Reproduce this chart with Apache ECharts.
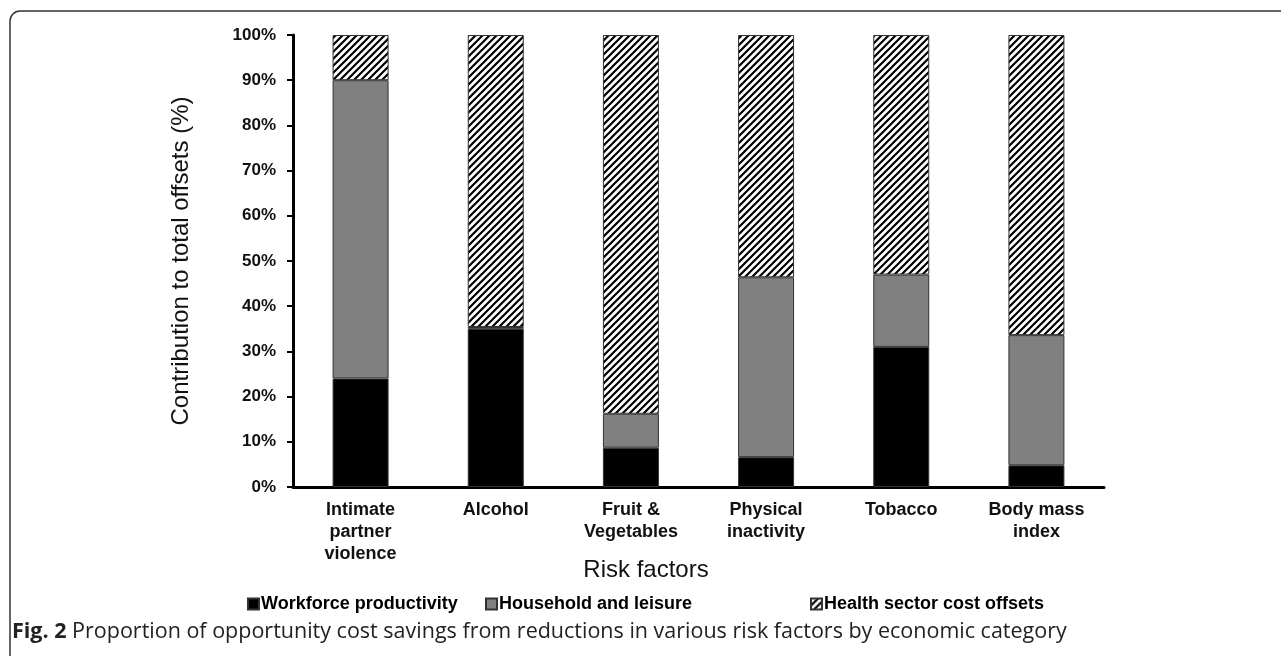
<!DOCTYPE html>
<html>
<head>
<meta charset="utf-8">
<script src="https://cdn.jsdelivr.net/npm/echarts@6/dist/echarts.min.js"></script>
<style>
  html, body { margin: 0; padding: 0; background: #fff; }
  #chart { width: 1281px; height: 656px; }
</style>
</head>
<body>
<div id="chart"></div>
<script>
// categories and shares (%)
const categories = ['Intimate\npartner\nviolence', 'Alcohol', 'Fruit &\nVegetables', 'Physical\ninactivity', 'Tobacco', 'Body mass\nindex']
const workforce = [24, 35, 8.7, 6.6, 31, 4.8]
const household = [66, 0.4, 7.5, 39.8, 16, 28.8]
const health = [10, 64.6, 83.8, 53.6, 53, 66.4]
const seriesNames = ['Workforce productivity', 'Household and leisure', 'Health sector cost offsets']

const FONT = '"Liberation Sans", Arial, sans-serif'

// diagonal hatch used for the health sector bars
function hatch() {
    const c = document.createElement('canvas')
    c.width = 7; c.height = 7
    const g = c.getContext('2d')
    g.fillStyle = '#fff'
    g.fillRect(0, 0, 7, 7)
    g.strokeStyle = '#000'
    g.lineWidth = 2.2
    g.beginPath()
    g.moveTo(-1, 8); g.lineTo(8, -1)
    g.moveTo(-1, 1); g.lineTo(1, -1)
    g.moveTo(6, 8); g.lineTo(8, 6)
    g.stroke()
    return c
}

const chart = echarts.init(document.getElementById('chart'))

const barBase = {
    type: 'bar',
    stack: 'total',
    barWidth: 56,
    emphasis: { disabled: true }
}

let legendItem = (left, name) => ({
    top: 590,
    left,
    data: [name],
    itemWidth: 11,
    itemHeight: 11,
    icon: 'rect',
    textStyle: { fontFamily: FONT, fontWeight: 'bold', fontSize: 18, color: '#000', padding: [0, 0, 0, -3] }
})

chart.setOption({
    animation: false,
    grid: { left: 293, right: 177, top: 35, bottom: 169 },
    legend: [
        legendItem(242, seriesNames[0]),
        legendItem(480, seriesNames[1]),
        legendItem(805, seriesNames[2])
    ],
    xAxis: {
        type: 'category',
        data: categories,
        axisLine: { lineStyle: { color: '#000', width: 3 } },
        axisTick: { length: 6, lineStyle: { color: '#000', width: 2 } },
        axisLabel: {
            margin: 12, color: '#111', fontFamily: FONT, fontWeight: 'bold',
            fontSize: 18, lineHeight: 22, interval: 0
        }
    },
    yAxis: {
        type: 'value',
        min: 0, max: 100, interval: 10,
        name: 'Contribution to total offsets (%)',
        nameLocation: 'middle',
        nameGap: 100,
        nameTextStyle: { fontFamily: FONT, fontSize: 24, color: '#111' },
        splitLine: { show: false },
        axisLine: { show: true, lineStyle: { color: '#000', width: 3 } },
        axisTick: { show: true, length: 6, lineStyle: { color: '#000', width: 2 } },
        axisLabel: {
            margin: 17, color: '#111', fontFamily: FONT, fontWeight: 'bold', fontSize: 17,
            formatter: '{value}%'
        }
    },
    series: [
        Object.assign({ name: seriesNames[0], data: workforce,
            itemStyle: { color: '#000', borderColor: '#333', borderWidth: 1 } }, barBase),
        Object.assign({ name: seriesNames[1], data: household,
            itemStyle: { color: '#808080', borderColor: '#333', borderWidth: 1 } }, barBase),
        Object.assign({ name: seriesNames[2], data: health,
            itemStyle: { color: { image: hatch(), repeat: 'repeat' }, borderColor: '#333', borderWidth: 1 } }, barBase)
    ],
    graphic: [
        {
            type: 'rect', silent: true,
            shape: { x: 10, y: 11, width: 1400, height: 900, r: 10 },
            style: { fill: null, stroke: '#333', lineWidth: 1.5 }
        },
        {
            type: 'text', silent: true,
            style: {
                x: 646, y: 570, text: 'Risk factors', align: 'center', verticalAlign: 'middle',
                fontFamily: FONT, fontSize: 24, fill: '#111'
            }
        },
        {
            type: 'text', silent: true,
            style: {
                x: 12, y: 632, verticalAlign: 'middle',
                text: '{b|Fig. 2} Proportion of opportunity cost savings from reductions in various risk factors by economic category',
                fontFamily: '"Open Sans", sans-serif', fontSize: 21.5, fill: '#222',
                rich: { b: { fontFamily: '"Open Sans", sans-serif', fontSize: 21.5, fontWeight: 'bold', fill: '#222' } }
            }
        }
    ]
})
</script>
</body>
</html>
